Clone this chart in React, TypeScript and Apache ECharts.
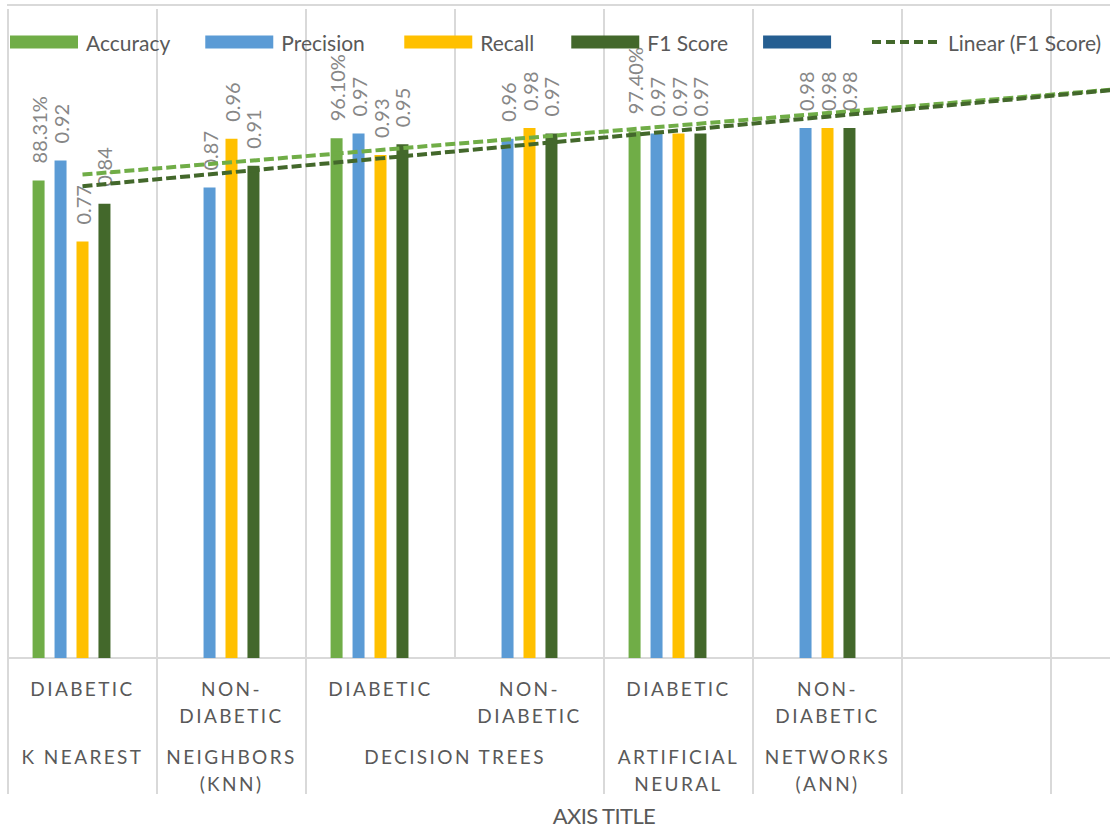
import React, { useEffect, useRef } from "react";
import * as echarts from "echarts";

// Inner category row (condition), one entry per category slot
const categories = [
  "DIABETIC",
  "NON-\nDIABETIC",
  "DIABETIC",
  "NON-\nDIABETIC",
  "DIABETIC",
  "NON-\nDIABETIC",
  "",
  "",
];

// Outer row (method); span = number of category slots the text sits over
const methodLabelParts = [
  { text: "K NEAREST", span: 1 },
  { text: "NEIGHBORS\n(KNN)", span: 1 },
  { text: "DECISION TREES", span: 2 },
  { text: "ARTIFICIAL\nNEURAL", span: 1 },
  { text: "NETWORKS\n(ANN)", span: 1 },
  { text: "", span: 1 },
  { text: "", span: 1 },
];

const accuracy = [0.8831, null, 0.961, null, 0.974, null, null, null];
const precision = [0.92, 0.87, 0.97, 0.96, 0.97, 0.98, null, null];
const recall = [0.77, 0.96, 0.93, 0.98, 0.97, 0.98, null, null];
const f1Score = [0.84, 0.91, 0.95, 0.97, 0.97, 0.98, null, null];
const unnamedSeries: (number | null)[] = [null, null, null, null, null, null, null, null];

const Y_MIN = 0;
const Y_MAX = 1.2;

const COLORS = {
  accuracy: "#70AD47",
  precision: "#5B9BD5",
  recall: "#FFC000",
  f1: "#43682B",
  unnamed: "#255E91",
  grid: "#D9D9D9",
  axisText: "#595959",
  valueText: "#878787",
};

const FONT = "Lato";
const TREND_DASH = [10, 4];

// Least-squares straight line through the non-empty points, evaluated on every slot
function linearTrend(values: (number | null)[]): number[] {
  const pts = values
    .map((v, i) => [i + 1, v] as [number, number | null])
    .filter((p) => p[1] !== null) as [number, number][];
  const n = pts.length;
  const mx = pts.reduce((s, p) => s + p[0], 0) / n;
  const my = pts.reduce((s, p) => s + p[1], 0) / n;
  let sxy = 0;
  let sxx = 0;
  for (const [x, y] of pts) {
    sxy += (x - mx) * (y - my);
    sxx += (x - mx) * (x - mx);
  }
  const slope = sxy / sxx;
  const intercept = my - slope * mx;
  return values.map((_, i) => intercept + slope * (i + 1));
}

// Where the outer-row texts sit, and which inner boundaries they run across
const methodLabelAt = new Map<number, string>();
const spannedBoundaries = new Set<number>();
{
  let start = 0;
  for (const part of methodLabelParts) {
    methodLabelAt.set(start * 2 + part.span, part.text);
    for (let k = 1; k < part.span; k++) spannedBoundaries.add(start + k);
    start += part.span;
  }
}

const percentLabel = (p: any) => (p.value == null ? "" : (p.value * 100).toFixed(2) + "%");
const decimalLabel = (p: any) => (p.value == null ? "" : Number(p.value).toFixed(2));

function barSeries(name: string, data: (number | null)[], color: string, formatter: any) {
  return {
    name,
    type: "bar",
    data,
    barWidth: 12,
    barGap: "83%",
    itemStyle: { color },
    label: {
      show: true,
      position: "top",
      rotate: 90,
      align: "left",
      verticalAlign: "middle",
      distance: 17,
      color: COLORS.valueText,
      fontSize: 20,
      fontFamily: FONT,
      formatter,
    },
  };
}

function trendSeries(name: string, data: number[], color: string) {
  return {
    name,
    type: "line",
    data,
    symbol: "none",
    silent: true,
    z: 5,
    lineStyle: { color, width: 4, type: TREND_DASH },
    itemStyle: { color },
  };
}

// legend text boxes, so every entry keeps its own width
const legendText = (width: number) => ({ width });

const legendBase = {
  top: 31,
  padding: 0,
  itemWidth: 68,
  itemHeight: 13,
  itemGap: 35,
  selectedMode: false,
  textStyle: {
    color: COLORS.axisText,
    fontSize: 21,
    lineHeight: 22,
    fontFamily: FONT,
    padding: [0, 0, 0, 3],
  },
};

export default function App() {
  const ref = useRef<HTMLDivElement>(null);

  useEffect(() => {
    if (!ref.current) return;
    const chart = echarts.init(ref.current, undefined, { renderer: "svg" });

    const option = {
      animation: false,
      backgroundColor: "#FFFFFF",
      textStyle: { fontFamily: FONT },
      grid: { left: 8, right: 30, top: 9, bottom: 163.5, containLabel: false },
      legend: [
        {
          ...legendBase,
          left: 10,
          data: [
            { name: "Accuracy", icon: "rect", textStyle: legendText(84) },
            { name: "Precision", icon: "rect", textStyle: legendText(88) },
            { name: "Recall", icon: "rect", textStyle: legendText(56) },
            { name: "F1 Score", icon: "rect", textStyle: legendText(80) },
            { name: " ", icon: "rect" },
          ],
        },
        {
          ...legendBase,
          left: 870,
          data: [
            // dashed line only, no marker in the middle
            {
              name: "Linear (F1 Score)",
              itemStyle: { opacity: 0 },
              lineStyle: { width: 4, type: [9, 5] },
            },
          ],
        },
      ],
      xAxis: [
        {
          type: "category",
          data: categories,
          name: "AXIS TITLE",
          nameLocation: "middle",
          nameGap: 146,
          nameTextStyle: { color: COLORS.axisText, fontSize: 22, fontFamily: FONT },
          axisLine: { show: true, lineStyle: { color: COLORS.grid, width: 2 } },
          axisTick: {
            show: true,
            length: 136,
            interval: (index: number) => !spannedBoundaries.has(index),
            lineStyle: { color: COLORS.grid, width: 2 },
          },
          splitLine: { show: true, interval: 0, lineStyle: { color: COLORS.grid, width: 2 } },
          axisLabel: {
            interval: 0,
            margin: 17,
            color: COLORS.axisText,
            fontSize: 19,
            lineHeight: 27,
            fontFamily: FONT,
          },
        },
        {
          type: "value",
          position: "bottom",
          min: 0,
          max: categories.length,
          interval: 0.5,
          axisLine: { show: false },
          axisTick: { show: false },
          splitLine: { show: false },
          axisLabel: {
            margin: 85,
            color: COLORS.axisText,
            fontSize: 19,
            lineHeight: 27,
            fontFamily: FONT,
            formatter: (v: number) => methodLabelAt.get(Math.round(v * 2)) ?? "",
          },
        },
      ],
      yAxis: { type: "value", min: Y_MIN, max: Y_MAX, show: false },
      graphic: [
        {
          type: "line",
          shape: { x1: 7, y1: 5, x2: 1230, y2: 5 },
          style: { stroke: COLORS.grid, lineWidth: 2 },
          silent: true,
        },
      ],
      series: [
        barSeries("Accuracy", accuracy, COLORS.accuracy, percentLabel),
        barSeries("Precision", precision, COLORS.precision, decimalLabel),
        barSeries("Recall", recall, COLORS.recall, decimalLabel),
        barSeries("F1 Score", f1Score, COLORS.f1, decimalLabel),
        barSeries(" ", unnamedSeries, COLORS.unnamed, decimalLabel),
        trendSeries("Linear (Accuracy)", linearTrend(accuracy), COLORS.accuracy),
        trendSeries("Linear (F1 Score)", linearTrend(f1Score), COLORS.f1),
      ],
    };

    chart.setOption(option as any);
    return () => chart.dispose();
  }, []);

  return (
    <div
      style={{
        position: "absolute",
        left: 0,
        top: 0,
        width: 1110,
        height: 831,
        overflow: "hidden",
        background: "#FFFFFF",
      }}
    >
      <style>{`
        .metrics-chart text[style*="19px"] { letter-spacing: 2.4px; }
        .metrics-chart text[style*="22px"][text-anchor="middle"] { letter-spacing: -0.6px; }
      `}</style>
      <div className="metrics-chart" ref={ref} style={{ width: 1230, height: 831 }} />
    </div>
  );
}
